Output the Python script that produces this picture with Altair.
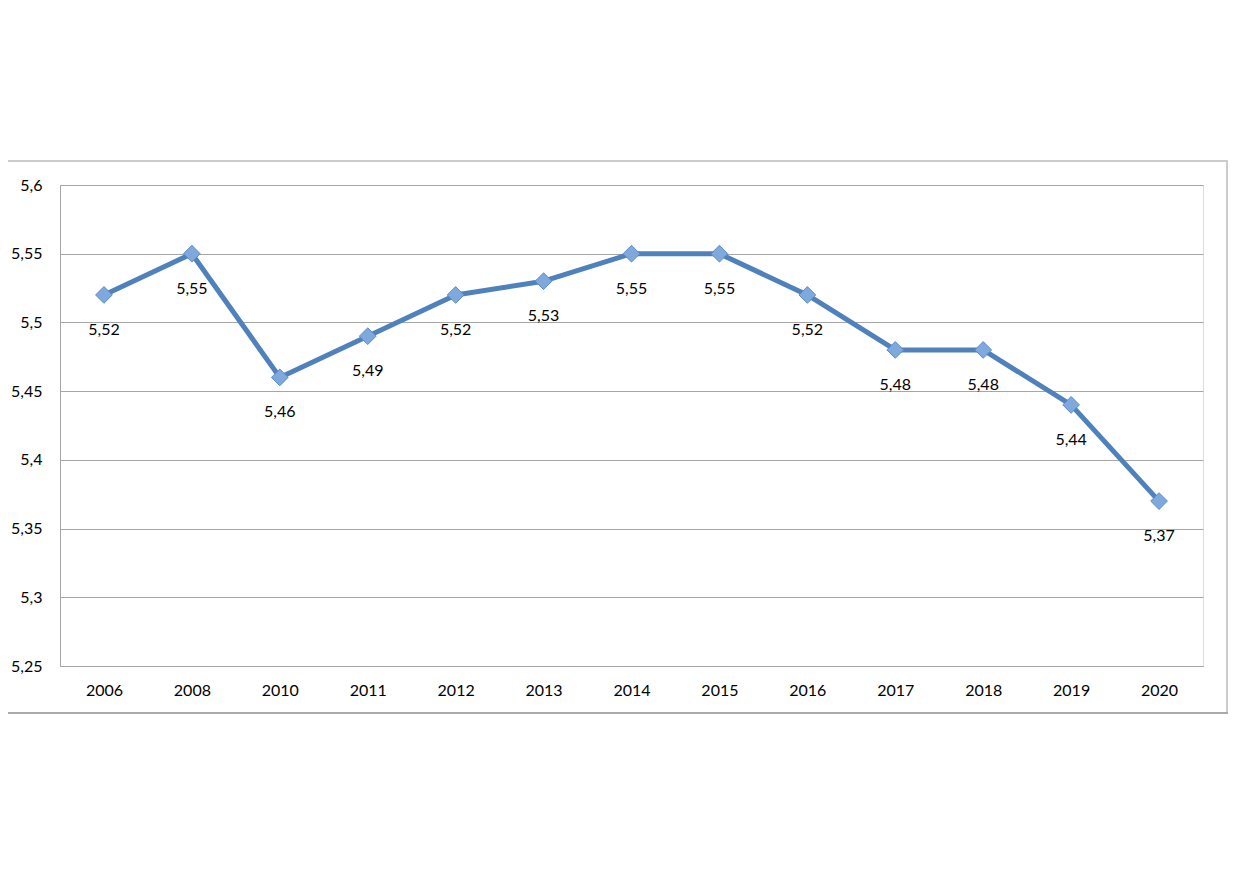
import altair as alt
import pandas as pd

years = ["2006", "2008", "2010", "2011", "2012", "2013", "2014", "2015", "2016", "2017", "2018", "2019", "2020"]
values = [5.52, 5.55, 5.46, 5.49, 5.52, 5.53, 5.55, 5.55, 5.52, 5.48, 5.48, 5.44, 5.37]
y_ticks = [5.25, 5.3, 5.35, 5.4, 5.45, 5.5, 5.55, 5.6]

df = pd.DataFrame({"year": years, "value": values})
df["label"] = [f"{v:.2f}".replace(".", ",") for v in values]

FONT = "Lato"
W, H = 1143, 481

x_enc = alt.X("year:N", sort=years, title=None,
              scale=alt.Scale(paddingInner=0, paddingOuter=0.5),
              axis=alt.Axis(labelAngle=0, ticks=False, domain=True, domainColor="#a6a6a6",
                            labelFont=FONT, labelFontSize=16, labelColor="#000000",
                            labelPadding=16, grid=False))
y_enc = alt.Y("value:Q", title=None,
              scale=alt.Scale(domain=[5.25, 5.6], nice=False, zero=False),
              axis=alt.Axis(values=y_ticks, ticks=False, domain=True, domainColor="#a6a6a6",
                            grid=True, gridColor="#a6a6a6", gridWidth=1,
                            labelFont=FONT, labelFontSize=16, labelColor="#000000",
                            labelPadding=18,
                            labelExpr="replace(format(datum.value, '.3~g'), '.', ',')"))

base = alt.Chart(df)

line = base.mark_line(color="#4f81bd", strokeWidth=5, strokeCap="round", strokeJoin="round",
                      interpolate="linear").encode(x=x_enc, y=y_enc)
points = base.mark_point(shape="diamond", filled=True, size=280, fill="#7fa9dc",
                         stroke="#5b8cc8", strokeWidth=1, opacity=1).encode(x=x_enc, y=y_enc)
labels = base.mark_text(dy=35, font=FONT, fontSize=16, color="#000000").encode(
    x=x_enc, y=y_enc, text="label:N")

frame_df = pd.DataFrame({"k": [0]})
frame = alt.Chart(frame_df)
top = frame.mark_rule(color="#cccccc", strokeWidth=2).encode(
    x=alt.value(-55), x2=alt.value(1168), y=alt.value(-24))
right = frame.mark_rule(color="#cccccc", strokeWidth=2).encode(
    x=alt.value(1167), y=alt.value(-24), y2=alt.value(528))
bottom = frame.mark_rule(color="#aaaaaa", strokeWidth=2).encode(
    x=alt.value(-55), x2=alt.value(1168), y=alt.value(528))

chart = alt.layer(line, points, labels, top, right, bottom).properties(
    width=W, height=H,
    autosize=alt.AutoSizeParams(type="none"),
    padding={"left": 52, "top": 177, "right": 29, "bottom": 180},
).configure_view(stroke=None).configure(background="#ffffff")

chart.save("out.html", embed_options={"renderer": "svg", "actions": False})
